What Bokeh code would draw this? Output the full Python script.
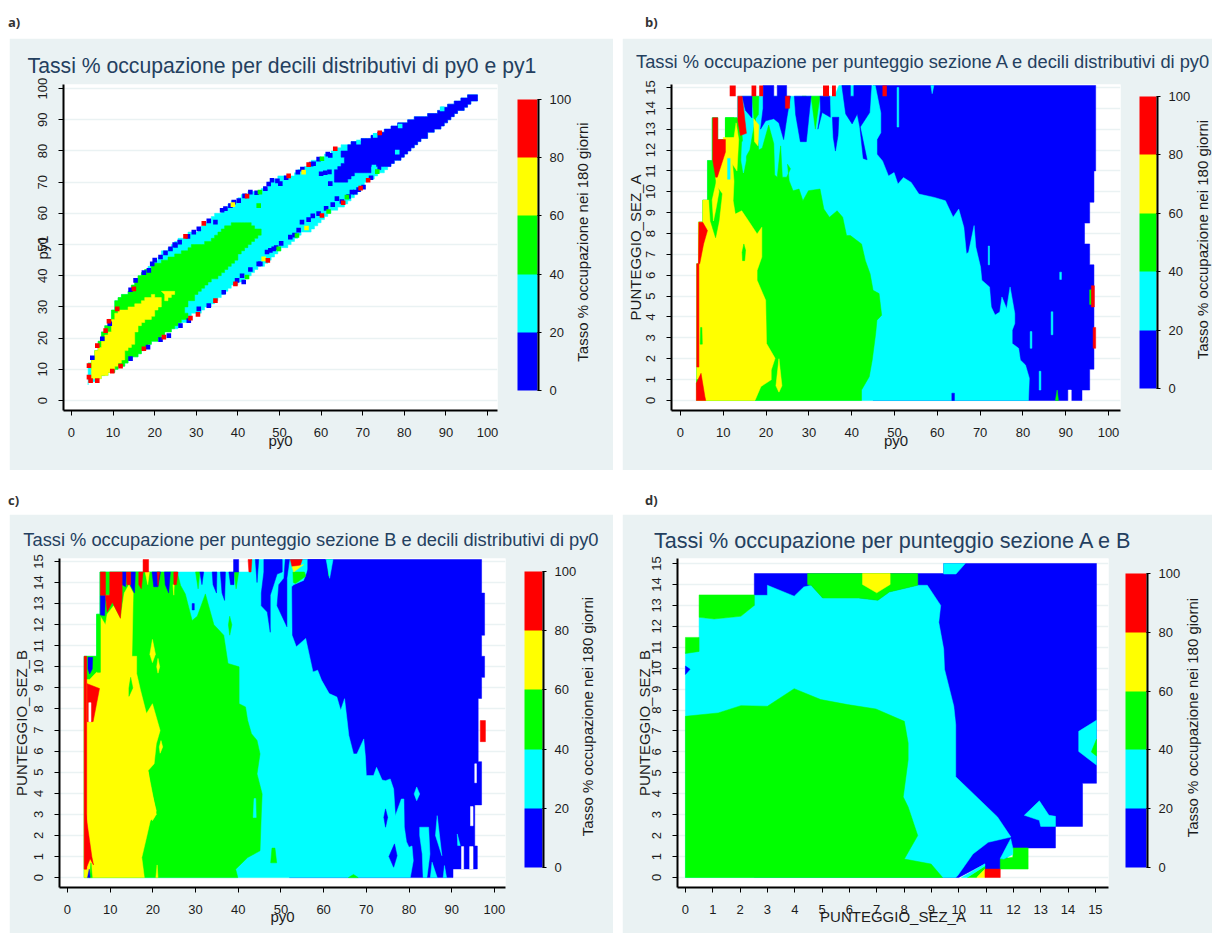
from bokeh.plotting import figure
from bokeh.embed import file_html
from bokeh.resources import INLINE
from bokeh.layouts import column, row
from bokeh.models import (Range1d, FixedTicker, LinearColorMapper, ColorBar, LinearAxis, Div)

BLUE, CYAN, GREEN, YELLOW, RED = "#0000ff", "#00ffff", "#00ff00", "#ffff00", "#ff0000"
BANDS = [BLUE, CYAN, GREEN, YELLOW, RED]
PANEL_BG = "#eaf2f3"
TITLE_COLOR = "#24405f"
CB_TICKS = [0, 20, 40, 60, 80, 100]
PCT_TICKS = list(range(0, 101, 10))
SCORE_TICKS = list(range(0, 16))
CB_LABEL = "Tasso % occupazione nei 180 giorni"

# ---------- panel a: py0 (x) against py1 (y) ----------
A_UPPER = [(4.2,12.3),(5.4,15),(6.6,19.2),(7.8,23),(9,26.2),(10.6,31.5),(14.2,35.8),(15.4,39),(17.8,42.2),
           (19,44.3),(21,46.5),(23.8,50.2),(27,52.9),(29.4,54.5),(31.8,57.2),(35.8,61),(39.8,65.2),(42.6,66.8),
           (46.2,67.9),(48.2,71.1),(52.6,72.4),(57,75.9),(60.6,78.6),(63.4,81.2),(66.6,82.3),(71,84.4),
           (77.5,88.2),(81.9,90.3),(86.3,91.9),(92.7,96.2),(95.9,98),(97.3,97.3)]
A_LOWER = [(97.3,95.7),(93.5,92.7),(90.3,88.7),(86.3,85.5),(84.3,82.8),(80.7,79.1),(76.7,74.8),(74.3,72.7),
           (71.1,70),(68.7,65.7),(66.2,63.1),(62.2,59.9),(59,56.1),(54.6,51.9),(51,48.6),(47,44.3),(41.4,38.5),
           (37.4,35.3),(35,31.5),(30.2,27.8),(28.2,25.1),(23.8,22.4),(21.4,19.8),(18.6,16.6),(14.6,12.8),
           (10.2,9.1),(7,7),(6.6,5.9),(4.2,5.3)]
A_BLUE = [(63.4,70.5),(63.4,74.3),(65.8,77.5),(64.5,78.6),(65,80.5),(66.6,82.3),(71,84.4),(77.5,88.2),(81.9,90.3),
          (86.3,91.9),(92.7,96.2),(95.9,98),(97.3,97.3),(97.3,95.7),(93.5,92.7),(90.3,88.7),(86.3,85.5),
          (84.3,82.8),(80.7,79.1),(76.7,74.8),(74.5,74.5),(72.5,75),(71.9,73),(68.7,72.7),(65.4,69.5)]
A_GREEN = [(4.2,12.3),(5.4,15),(6.6,19.2),(7.8,23),(9,26.2),(10.6,31.5),(14.2,35.8),(15.4,39),(17.8,42.2),(19,43.5),(21.4,44.9),
           (25.4,47),(27.8,49.2),(31,50.2),(33.4,52.4),(38.2,57.2),(42.2,57.2),(45.4,53.4),(43.4,50.2),(39.8,45.4),(36.6,40.6),
           (32.6,37.4),(30,33.5),(27,29.5),(28,26),(25.4,24.5),(23.8,22.4),(21.4,19.8),(18.6,16.6),(14.6,12.8),
           (10.2,9.1),(7,7.5)]
A_YELLOW = [(4.5,12),(5.4,14.5),(7.4,18.7),(9.4,23.5),(10.6,27.8),(12.6,29.4),(17,32),(19,33.7),(21.8,32),(21.8,29.9),
            (19,26.2),(16.6,23.5),(15,20.8),(15.4,18.2),(13,14.4),(10.6,10),(7.4,7.3),(5.4,6.6),(4.5,8)]
A_YELLOW2 = [(21.8,35.3),(25,34.2),(23.4,31.5),(22.2,33.1)]
A_CELLS_BLUE = [(5,13.7),(7.4,19.8),(9.2,24.6),(14.2,35.5),(15.4,38.5),(18.6,41.7),(19.4,43.8),(21.4,46),(23.8,48.6),
                (25,49.7),(29.4,54),(34.6,57.2),(14.2,13.4),(18.4,17.1),(21.4,19.5),(23.4,20.8),(26.2,24),(28.2,25.6),
                (30.6,29.4),(33,30.4),(36.6,34.7),(39.8,38.5),(41,40),(47,47.6),(45.4,43.8),(48.6,48.6),(36.2,61),
                (38.2,62.5),(40.2,64.1),(43,66.8),(46.6,67.9),(48.2,70.6),(50.2,69.5),(54.4,73.2),(58.2,75.9),
                (62.2,78.6),(52.6,52.4),(47.8,48.1),(55.4,57.2),(59.4,59.9),(63.8,64.7),(67.4,66.8),(70.2,68.4),
                (68.2,66.8),(45,43.8),(41.4,38),(60,72.7),(61,73),(62,73.3),(62.2,69.5),(17.4,41),(20,45),(22.6,47.3),
                (24.8,50),(26,50.8),(28,52.6),(30.6,55),(33,57.6),(37,61.5),(39,63.6),(41.6,65.6),(44.5,66.6),(47.4,69.4),
                (49.5,70.4),(51.6,71.4),(55.5,74.2),(57.6,75.8),(59.4,77.4),(61.6,79),(53.6,53),(54.6,54.6),(50.4,50.4),
                (49.2,49),(43,42),(57,58),(58,59.2),(61.2,61.6),(62.8,62.8),(65,63.8),(66.6,65.4),(69,67.6),(72,71.4)]
A_CELLS_RED = [(4.2,11.2),(4.2,7.5),(4.6,6.4),(6.2,6.4),(9.8,9.4),(11.8,11),(6.2,17.6),(8.2,22.4),(9,25.4),(11,29.4),
               (15,35.8),(27.4,52.6),(31.8,56.8),(17.4,16.6),(22.2,20.3),(34.6,32),(30.4,27.6),(28.6,26.4),(39.4,37.4),
               (47.2,44.9),(42.2,65.5),(52.2,72),(57,75.6),(63.4,80.7),(74.1,85.8),(65.3,63.4),(69.5,68.1),(71.3,70.6),
               (60.2,59.3)]
A_CELLS_GREEN = [(45.3,66.8),(60.2,77.5),(54.2,52.9),(49.8,48.6),(61.8,60.6),(66.2,65.2),(73.5,73.4),(42.2,39.6),(45,62.5)]
A_CELLS_YELLOW = [(38.8,62.8),(55.8,73.2),(56.5,55.3),(46.2,45.4)]
A_CELLS_CYAN = [(69,82.8),(73,85),(79,88),(89.1,93.5),(78.3,79.6),(72.7,74.8)]

# ---------- panel b: py0 (x) against PUNTEGGIO_SEZ_A (y) ----------
B_STAIR = [(3.8,0),(3.8,6.55),(4.2,6.55),(4.2,8.55),(5.2,8.55),(5.2,9.6),(6.3,9.6),(6.3,11.5),(7.4,11.5),(7.4,13.55),
           (8.7,13.55),(8.7,12.5),(10.5,12.5),(10.5,13.55),(13.3,13.55),(13.3,14.58)]
B_BLUE = [(45,0),(93.8,0),(93.8,0.5),(95.6,0.5),(95.6,1.5),(96.6,1.5),(96.6,6.5),(95.6,6.5),(95.6,7.5),(94.4,7.5),
          (94.4,8.5),(95.6,8.5),(95.6,9.5),(96.6,9.5),(96.6,11),(97,11),(97,15.09),(45,15.09)]
B_CYAN = [(81.3,0),(81.5,1.07),(80.6,1.7),(79.4,1.94),(79,2.5),(77.5,2.73),(77.5,3.37),(78.1,3.69),(78.1,4.17),(77,5.44),
          (76.2,4.4),(75.1,4.96),(74.6,4.24),(73.5,4.09),(72.6,4.48),(72.2,5.44),(70.4,5.76),(70.1,6.39),(69,7.35),
          (68.6,8.38),(67.3,7.1),(66.8,7.03),(66.2,8.3),(65,9.17),(63.7,8.78),(61.9,9.57),(59.3,9.73),(55.7,9.89),
          (53.9,10.45),(52.1,10.68),(50.8,10.37),(49.9,10.92),(48.6,10.76),(47.2,11.48),(45.9,11.8),(45.9,12.51),
          (46.8,12.83),(46.8,13.78),(45.5,15.09),(37,15.09),(36,14.58)]
B_GREEN = [(42.3,0),(42.3,0.5),(44.1,1.14),(44.8,1.94),(45.6,3.2),(45.9,3.85),(47,4.08),(46.4,5.12),(45,5.28),(44.3,6.07),
           (43.2,6.7),(42.3,7.5),(39.7,7.9),(38.8,7.9),(37.9,8.78),(36.6,9.09),(34.8,8.78),(33.5,9.17),(32.6,10.13),
           (29.9,10.05),(28.6,9.57),(27.7,10.13),(26.3,10.05),(25.4,10.52),(25,11.32),(25.7,11.1),(24.8,10.7),(23.8,10.7),
           (23.4,12.2),(22.6,10.7),(22,10.8),(21.8,12.3),(20.6,13.2),(19.1,12.1),(18.3,12),(17.5,13.5),(16.2,12),(14.8,11.5),
           (14.2,13.3),(13.2,13.55)]
B_YELLOW = [(17.4,0),(18.8,0.67),(21.2,0.99),(21.2,1.46),(22.1,2.02),(20.1,2.73),(19.9,4.8),(17.9,5.76),(17.9,6.23),(19,6.87),
            (19,8.3),(17.9,7.98),(16.1,8.54),(14.3,9.09),(12.8,8.93),(12.3,9.57),(12.5,10.5),(12.1,11.5),(12.3,12.6),(10.1,12.45),
            (8.2,10.7),(8.6,10),(8,9.6)]
B_GREEN_BITS = [[(7,10.7),(9.7,9.9),(9,8.6),(8.2,7.8),(7,8.6),(6.6,9.9)],
                [(14.5,6.7),(15,6.7),(15.2,7.2),(14.8,7.5),(14.4,7.1)],
                [(3.8,0.5),(4.2,0.5),(4.2,1.0),(3.8,1.0)],
                [(4.6,2.7),(5.1,2.7),(5,3.5),(4.7,3.5)],
                [(10.5,13.55),(12.5,13.55),(12.5,12.6),(10.5,12.6)],
                [(16.7,14.58),(18.3,14.58),(18.2,13.7),(17.2,13.4)],
                [(28.4,14.58),(29.4,14.58),(29,13.8)],[(30.5,14.58),(32.6,14.58),(31.5,13)],
                [(95.6,4.6),(96,4.6),(96,5.3),(95.6,5.3)],[(87.6,0),(88.3,0),(88,0.5)]]
B_YELLOW_BITS = [[(7.4,9.6),(8.5,10.6),(9,10),(8.3,9.2),(7.7,8.6)],
                 [(17.1,13.5),(18.3,13.2),(18.1,12.2),(17.3,12.4)],
                 [(22.3,0.7),(23,2),(23.7,0.7),(23,0.4)],
                 [(10,12.6),(12.5,12.6),(13,13.3),(13.6,12.5),(13.2,11),(10.3,11.9)]]
B_CYAN_BITS = [[(14.4,12.4),(15.2,12.4),(15.3,11.5),(14.7,10.9),(14.2,11.5)],[(11,10.6),(11.6,10.6),(11.6,11.6),(11,11.6)],
               [(15,13.8),(16.4,13.2),(16.3,12.6),(15.4,12.6)],[(50.6,13.1),(51,13.1),(51,15),(50.6,15)],
               [(71.9,6.5),(72.2,6.5),(72.2,7.4),(71.9,7.4)],[(88.6,5.8),(89,5.8),(89,6.15),(88.6,6.15)],
               [(86.6,3.15),(87,3.15),(87,4.25),(86.6,4.25)],[(81.7,2.5),(82.1,2.5),(82.1,3.3),(81.7,3.3)],
               [(83.8,0.5),(84.2,0.5),(84.2,1.4),(83.8,1.4)],[(58.5,15.09),(59.2,15.09),(58.8,14.7)]]
B_BLUE_BITS = [[(14.4,14.58),(16.7,14.58),(16.7,13.54),(15.2,13.9)],
               [(19.3,15.09),(21.8,15.09),(21.8,14.58),(22.6,14.58),(22.6,15.09),(24.8,15.09),(24.8,14.58),(25.7,14.58),
                (24.9,13.6),(24.1,12.5),(23,13.3),(21.8,13.5),(19.9,13.4),(18.7,13),(19.3,14)],
               [(26.6,14.58),(30.5,14.58),(29.4,12.4),(28,12.4),(26.9,13.7)],
               [(32.6,14.58),(34.9,14.58),(35,13.57),(33.1,13.8),(32.1,13),(32.7,13.9)],
               [(35.5,13.57),(37,13.57),(36.8,12.7),(36.2,11.95),(35.7,12.6)],
               [(37.7,15.09),(39.7,15.09),(39.7,14.58),(40.5,14.58),(40.5,15.09),(44.6,15.09),(44.2,13.8),(42,13.1),
                (43.6,11.53),(42.7,11.6),(41.9,13.1),(41.3,13.73),(40.1,13.25),(38.6,13.73)],
               [(63.4,0),(64,0),(64,0.35),(63.4,0.35)]]
B_WHITE_BITS = [[(90.6,-0.02),(91.3,-0.02),(91.3,0.5),(90.6,0.5)]]
B_RED_BITS = [[(3.7,0),(3.7,0.83),(4.8,1.3),(5.7,0.19),(5.9,0)],
              [(3.8,1.6),(4.3,1.6),(4.3,6.55),(3.8,6.55)],
              [(4.3,8.54),(5.2,8.54),(6.3,8.14),(5.4,7.5),(4.5,6.55),(4.2,6.55)],
              [(7.55,13.55),(8.7,13.55),(8.7,12.5),(10.5,12.5),(10.5,11.9),(8.6,10.7),(8.2,10.7),(7.55,11.5)],
              [(13.4,14.58),(14.4,14.58),(14.8,13.9),(15.4,12.8),(14,12.7),(13.4,13.4)],
              [(24.5,14.58),(25.5,14.58),(25.5,14),(24.5,14)],
              [(96,4.48),(96.7,4.48),(96.7,5.5),(96,5.5)],[(96.4,2.5),(97,2.5),(97,3.5),(96.4,3.5)]]
B_TOP_RED = [(11.5,12.9),(16.6,17.7),(18.4,19.3),(33.3,34.7),(35.4,36.3),(47.2,48.2)]

# ---------- panel c: py0 (x) against PUNTEGGIO_SEZ_B (y) ----------
C_STAIR = [(3.9,0),(3.9,9.4),(3.9,10.5),(6.8,10.5),(6.8,12.5),(7.6,12.5),(7.6,14.5)]
C_BLUE = [(52,0),(90.3,0),(90.3,0.41),(96,0.41),(96,1.5),(95.4,1.5),(95.4,3.45),(97,3.45),(97,5.5),(96.2,5.5),(96.2,8.5),
          (97,8.5),(97,9.5),(97.7,9.5),(97.7,10.5),(97,10.5),(97,11.5),(97.7,11.5),(97.7,13.5),(97,13.5),(97,15.09),(52,15.09)]
C_CYAN = [(80.3,0),(81,0.8),(80.7,1.5),(80,1.44),(79.4,1.7),(78.9,2.4),(78.8,3.73),(78.2,3.73),(76.8,2.94),(76.4,4.2),(75.6,4.68),
          (74.5,4.6),(73.7,4.63),(72.4,5.23),(71.7,4.84),(70,4.84),(69.8,5.71),(69.4,6.58),(67.8,5.87),(67,5.87),(65.9,6.74),
          (65.5,7.45),(64.9,8.49),(64,7.94),(63.1,8.57),(61.3,8.73),(59.5,9.37),(58.6,9.84),(57.5,9.76),(55.8,11.35),(53.6,10.95),
          (52.6,11.5),(52.5,13.8),(53,13.9),(55.3,14.1),(56.3,14.65),(56.3,15.09),(43,15.09),(43,14.5)]
C_GREEN = [(39.9,0),(39.4,0.4),(42.2,0.95),(45.1,1.27),(45.4,3.02),(45.6,3.97),(44.4,4.92),(45.1,5.87),(44.4,6.51),(43.1,6.83),
           (42.2,7.46),(41.7,8.1),(40.2,8.25),(40.2,10),(37.6,10.16),(36.6,11.5),(34.3,12),(32.3,13.46),(30.4,12.4),(29.2,12.2),
           (27.6,13.46),(26.5,13.86),(25.7,14.5)]
C_YELLOW = [(18,0),(17.4,0.95),(18.5,1.9),(19.4,2.7),(20.3,2.86),(20.8,3.17),(19.4,4.29),(18.9,5.08),(20.3,5.4),(20.8,6.35),
            (21.7,6.98),(19.9,8.25),(18.5,7.78),(17.1,8.89),(16.2,9.68),(16.2,10.5),(15.1,10.5),(15.4,13.5),(14.4,13.9),
            (13.3,13.5),(12.4,12.3),(10.8,12.9),(9.3,12.5),(8.9,12),(7.7,12.4),(7.7,9.74),(6.8,9.74),(5.2,9.4)]
C_YELLOW_BITS = [[(19.9,11.3),(20.6,10.6),(19.9,10.2),(19.3,10.6)],[(18.9,5),(19.6,4.3),(20.8,3),(19.9,2.7),(19,3.6)],
                 [(21.7,5.9),(22.3,6.2),(21.9,6.5),(21.5,6.2)],[(21.2,10.4),(21.6,10),(21.2,9.7),(20.9,10)],
                 [(18.2,14.5),(19.2,14.5),(18.8,13.9)],[(20.7,0),(21.2,0),(21,0.6)],
                 [(24.7,13.9),(25,13.9),(24.9,13.4)],[(8.9,13.4),(9.7,13.4),(9.4,12.9)]]
C_GREEN_BITS = [[(14.4,8.6),(15.3,9),(14.8,9.5),(14.4,9)],[(7,12.46),(7.7,12.46),(7.7,9.74),(7,9.74)],
                [(47.6,0.7),(49,0.7),(48.6,1.4),(47.9,1.4)],[(65.8,0),(68.1,0),(67,0.15)],[(38,11.5),(38.5,12),(38,12.4),(37.7,12)],
                [(16.7,14.5),(15.9,14.5),(16.1,13.8)],[(17.7,14.5),(18.2,14.5),(18,13.9)],[(24.1,14.5),(24.9,14.5),(24.5,13.9)],
                [(30,14.5),(31,14.5),(30.6,13.7)],[(39,14.5),(40.1,14.5),(39.5,13.7)],[(5.2,0),(5.8,0),(5.5,0.7)],
                [(52.8,14.5),(55.5,14.5),(55.8,14.3),(53.4,13.95),(52.9,14)],[(60.8,15.09),(61.6,15.09),(61.2,14.3)]]
C_CYAN_BITS = [[(43.5,2.85),(44.2,2.85),(44.1,3.75),(43.7,3.75)],[(60.6,15.09),(62.2,15.09),(61.4,14.2)],
               [(81.8,4.3),(82.5,3.97),(81.8,3.65),(81.2,3.97)],
               [(82.5,2.39),(84.6,2.39),(84.9,1.12),(84.2,0.01),(83.3,0.01),(83.1,1.12),(82.5,2)],
               [(86.6,2.94),(87.7,1.04),(86.2,2)],[(85.4,0.73),(86.6,0),(85,0)],[(88.3,0.57),(88.8,0),(88,0)],
               [(91.3,2.07),(92,1.52),(91.4,1.52)]]
C_BLUE_BITS = [[(46,15.09),(50.3,15.09),(50.3,14.5),(49.1,14.4),(47.5,13.4),(47.5,11.64),(46.8,12.6),(45.4,12.9),(45.4,13.5),(46,14.5)],
               [(51,15.09),(52,15.09),(51.4,14.2),(51.4,13.07),(51.4,11.9),(49.1,12.9),(49.5,13.9),(50.7,14.2)],
               [(56.3,15.09),(60.3,15.09),(60.5,14.2),(56.3,14.4)],[(44,15.09),(44.8,15.09),(44.4,14)],
               [(37.8,14.5),(39,14.5),(39,13.9),(38.2,13.9)],[(38.9,14.5),(40.1,14.5),(40.1,15.09),(38.9,15.09)],
               [(35.8,14.5),(37,14.5),(36.8,13.15),(36.2,13.5)],[(33.9,14.5),(35,14.5),(34.9,13.5),(34.1,13.9)],
               [(31,14.5),(31.9,14.5),(31.5,13.9)],[(22.7,14.5),(24.1,14.5),(23.7,13.5),(22.9,13.9)],
               [(19.8,14.5),(21.8,14.5),(21.2,13.8),(20.2,13.8)],[(14.8,14.5),(15.9,14.5),(15.7,13.5),(14.8,13.85)],
               [(12.8,14.5),(13.8,14.5),(13.6,13.8),(12.8,13.9)],[(7.7,13.38),(8.9,13.38),(8.7,12.43),(7.7,12.46)],
               [(4.8,10.45),(5.9,10.45),(5.8,9.9),(5.2,9.66),(4.8,9.9)],[(29.2,13),(29.7,13),(29.7,12.7),(29.2,12.7)],
               [(76.6,1.6),(77.2,1.04),(76.4,0.49),(75.3,1)],[(74.5,3.26),(75,2.86),(74.5,2.39),(74.1,2.86)],
               [(4.7,0),(5.3,0),(5.1,0.4)]]
C_RED_BITS = [[(7.7,14.5),(8.9,14.5),(8.9,13.4),(7.7,13.4)],
              [(9.9,14.5),(12.8,14.5),(12.8,13.3),(12.4,12.3),(10.5,13.07),(9.3,12.6),(8.9,13.4),(9.9,13.4)],
              [(13.8,14.5),(14.8,14.5),(14.8,13.9),(13.9,13.9)],[(16.7,14.5),(17.7,14.5),(17.3,13.7),(16.7,13.9)],
              [(21,14.5),(21.6,14.5),(21.2,13.85)],[(24.9,14.5),(25.9,14.5),(25.5,13.9),(24.9,13.9)],
              [(17.7,15.09),(19,15.09),(19,14.5),(17.7,14.5)],[(3.9,0.4),(4.5,0.4),(4.5,10.5),(3.9,10.5)],
              [(4.6,9.2),(7.5,8.97),(6,7.4),(4.6,7.4)],[(4.3,3),(5.7,1),(6.1,0.6),(5.3,0.9),(4.3,0.4)],
              [(52.2,15.09),(55,15.09),(54.5,14.8),(52.6,14.75)],[(42.3,15.09),(43.2,15.09),(43,14.5),(42.5,14.5)],
              [(96.7,6.45),(97.9,6.45),(97.9,7.45),(96.7,7.45)]]
C_YELLOW_TOP = [[(52.6,14.75),(54.5,14.8),(55.3,14.85),(53,14.5)]]
C_WHITE_BITS = [[(5,7.4),(5.5,7.4),(5.5,8.3),(5,8.3)],[(94.4,2.46),(95,2.46),(95,3.37),(94.4,3.37)],
                [(95.4,4.5),(95.8,4.5),(95.8,5.4),(95.4,5.4)],[(92.3,0.41),(92.8,0.41),(92.8,1.47),(92.3,1.47)],
                [(94.2,0.41),(95,0.41),(95,1.47),(94.2,1.47)]]

# ---------- panel d: PUNTEGGIO_SEZ_A (x) against PUNTEGGIO_SEZ_B (y) ----------
D_BLUE = [(2.52,14.52),(9.45,14.52),(9.45,15),(15.04,15),(15.04,4.5),(14.53,4.5),(14.53,2.44),(13.54,2.44),(13.54,1.41),
          (11.98,1.41),(11.52,0.4),(10.96,0.4),(10.96,0.65),(10,0),(2.52,0)]
D_CYAN = [(0,0),(9.89,0),(9.96,0.08),(10.52,1.12),(11.08,1.68),(11.91,1.93),(11.42,2.89),(9.89,4.81),(9.89,7.3),(9.82,8.18),
          (9.48,9.95),(9.45,10.91),(9.27,12.19),(9.34,13),(8.85,13.96),(8.5,13.96),(7.46,13.64),(7.04,13.24),(6.34,13.35),
          (5.02,13.35),(4.6,13.96),(4.33,13.88),(3.98,13.44),(3,13.96),(3,13.48),(2.52,13.48),(2.52,13),(2.03,12.48),
          (1.05,12.35),(0.5,12.43),(0.5,11.47),(0,10.75)]
D_GREEN = [(0,0),(9.41,0),(8.99,0.64),(8.01,0.88),(8.5,2),(8.15,3.37),(7.97,3.85),(8.15,5.62),(8.15,6.42),(8.01,7.46),(6.97,8.05),
           (5.93,8.26),(4.95,8.5),(3.98,9.02),(3,8.18),(2.03,8.21),(1.2,7.86),(0,7.7)]
D_GREEN_BITS = [[(0.5,13.5),(2.52,13.5),(2.52,13),(2.03,12.48),(1.05,12.35),(0.5,12.43)],
                [(0,11.47),(0.5,11.47),(0.5,10.8),(0,10.7)],
                [(4.47,14.52),(8.5,14.52),(8.5,13.96),(7.46,13.64),(7.04,13.24),(6.34,13.35),(5.02,13.35),(4.6,13.96),(4.47,14)],
                [(11.98,1.41),(12.54,1.41),(12.54,0.4),(11.52,0.4),(11.52,0.88),(11.98,0.96)],
                [(10.31,0),(10.66,0),(10.96,0.4),(10.96,0.55)]]
D_CYAN_BITS = [[(9.45,15),(10.24,15),(9.9,14.5),(9.45,14.5)],
               [(14.39,6.98),(15.04,7.51),(15.04,5.37),(14.39,6.02)],
               [(12.4,2.97),(12.95,3.66),(13.3,2.97),(13.54,2.92),(13.54,2.44),(13,2.44),(12.95,2.73)],
               [(11.52,0.9),(11.9,1.85),(11.98,1.41),(11.98,1.1),(11.65,0.88)],[(10.1,0),(10.31,0),(10.96,0.55),(10.96,0.65)]]
D_GREEN_TIP = [(14.85,6),(15.04,6.6),(15.04,5.8)]
D_YELLOW_BITS = [[(6.48,14.52),(7.49,14.52),(7.49,14),(7,13.6),(6.48,14)],[(10.66,0),(10.96,0),(10.96,0.4)]]
D_BLUE_BITS = [[(0,10.1),(0.17,9.95),(0,9.7)]]
D_RED_BITS = [[(10.96,0),(11.52,0),(11.52,0.4),(10.96,0.4)]]


def frame_style(p, xticks, yticks, xlabel, ylabel, xstandoff, ystandoff):
    p.xaxis.ticker = FixedTicker(ticks=xticks)
    p.yaxis.ticker = FixedTicker(ticks=yticks)
    p.xaxis.axis_label, p.yaxis.axis_label = xlabel, ylabel
    p.xaxis.axis_label_standoff, p.yaxis.axis_label_standoff = xstandoff, ystandoff
    p.yaxis.major_label_orientation = "vertical"
    for ax in (p.xaxis[0], p.yaxis[0]):
        ax.axis_line_color = "black"
        ax.axis_line_width = 2
        ax.major_tick_line_color = "black"
        ax.major_tick_in = 0
        ax.major_tick_out = 5
        ax.minor_tick_line_color = None
        ax.major_label_text_font = "Liberation Sans"
        ax.major_label_text_font_size = "13px"
        ax.major_label_text_color = "#1c1c1c"
        ax.axis_label_text_font = "Liberation Sans"
        ax.axis_label_text_font_size = "15px"
        ax.axis_label_text_font_style = "normal"
        ax.axis_label_text_color = "#1c1c1c"
    p.xaxis.major_label_standoff = 12
    p.yaxis.major_label_standoff = 11
    p.xgrid.grid_line_color = None
    p.ygrid.ticker = FixedTicker(ticks=yticks)
    p.ygrid.grid_line_color = PANEL_BG
    p.ygrid.grid_line_width = 1.5
    p.outline_line_color = None


def make_panel(w, h, box, xr, yr, xticks, yticks, xlabel, ylabel, title, title_centre, title_standoff, title_size,
               cb_left, cb_top, cb_bottom, cb_width, cb_label_x, xstandoff, ystandoff):
    left, top, right, bottom = box
    p = figure(width=w, height=h, output_backend="svg", toolbar_location=None,
               x_range=Range1d(*xr), y_range=Range1d(*yr),
               min_border_left=left, min_border_top=top, min_border_right=w - right, min_border_bottom=h - bottom,
               background_fill_color="white", border_fill_color=PANEL_BG)
    frame_style(p, xticks, yticks, xlabel, ylabel, xstandoff, ystandoff)
    # panel title: one centred label on an otherwise empty top axis, so that it can sit freely above the frame
    p.add_layout(LinearAxis(ticker=FixedTicker(ticks=[title_centre]), major_label_overrides={title_centre: title},
                            major_label_standoff=title_standoff, axis_line_color=None, major_tick_line_color=None,
                            minor_tick_line_color=None, major_tick_in=0, major_tick_out=0,
                            major_label_text_font="Liberation Sans", major_label_text_font_size=title_size,
                            major_label_text_color=TITLE_COLOR), "above")
    mapper = LinearColorMapper(palette=BANDS, low=0, high=100)
    loc = (cb_left - left, bottom - cb_bottom)
    p.add_layout(ColorBar(color_mapper=mapper, ticker=FixedTicker(ticks=CB_TICKS), width=cb_width, height=cb_bottom - cb_top,
                          location=loc, padding=0, bar_line_color=None, border_line_color=None,
                          background_fill_color=None, major_tick_in=0, major_tick_out=4, major_tick_line_color="black",
                          minor_tick_line_color=None, major_label_text_font="Liberation Sans",
                          major_label_text_font_size="13px", major_label_text_color="#1c1c1c", label_standoff=8), "center")
    # the thin black line along the right side of the colour bar
    p.add_layout(ColorBar(color_mapper=LinearColorMapper(palette=["black"], low=0, high=1), ticker=FixedTicker(ticks=[]),
                          width=2, height=cb_bottom - cb_top, location=(cb_left + cb_width - left, bottom - cb_bottom),
                          padding=0, bar_line_color=None, border_line_color=None, background_fill_color=None,
                          major_tick_line_color=None, minor_tick_line_color=None), "center")
    # colour-bar caption: one centred label of a second left axis, carried over to the right of the colour bar,
    # because only a left axis writes a centred vertical label that reads upwards
    centre_px = (cb_top + cb_bottom) / 2 - 3
    centre = round(yr[1] - (centre_px - top) / (bottom - top) * (yr[1] - yr[0]), 2)
    main_axis = 5 + 11 + 13 + ystandoff + 17
    side = LinearAxis(ticker=FixedTicker(ticks=[centre]), major_label_overrides={centre: CB_LABEL},
                      major_label_orientation="vertical", major_label_standoff=left - main_axis - 10 - cb_label_x,
                      axis_line_color=None, major_tick_line_color=None, minor_tick_line_color=None,
                      major_tick_in=0, major_tick_out=0,
                      major_label_text_font="Liberation Sans", major_label_text_font_size="15px",
                      major_label_text_color="#1c1c1c")
    p.add_layout(side, "left")
    return p


def polys(p, shapes, color):
    p.patches([[q[0] for q in s] for s in shapes], [[q[1] for q in s] for s in shapes],
              fill_color=color, line_color=color, line_width=0.5)


def band(boundary, stair):
    end = boundary[-1][1]
    kept = []
    for q in stair:
        if q[1] > end:
            break
        kept.append(q)
    return boundary + kept[::-1]


def blocky(shape, dx=0.8, dy=1.0):
    """Outline of a polygon drawn as the staircase of a grid of cells."""
    out = []
    pts = shape + shape[:1]
    for (x0, y0), (x1, y1) in zip(pts, pts[1:]):
        n = max(1, int(max(abs(x1 - x0) / dx, abs(y1 - y0) / dy)))
        for k in range(n):
            x = round((x0 + (x1 - x0) * k / n) / dx) * dx
            y = round((y0 + (y1 - y0) * k / n) / dy) * dy
            if out:
                out.append((x, out[-1][1]))
            out.append((x, y))
    return out


def cells(p, pts, color):
    p.rect([q[0] for q in pts], [q[1] for q in pts], width=1.1, height=1.5, fill_color=color, line_color=None)


# panel a
pa = make_panel(604, 432, (54, 46, 488, 372), (-1.92, 102.4), (-3.2, 101.3), PCT_TICKS, PCT_TICKS, "py0", "py1",
                "Tassi % occupazione per decili distributivi di py0 e py1", 50.6, 8, "21.2px",
                508, 61, 352, 20, 574, -8, -15)
polys(pa, [blocky(A_UPPER + A_LOWER)], CYAN)
polys(pa, [blocky(A_BLUE)], BLUE)
polys(pa, [blocky(A_GREEN)], GREEN)
polys(pa, [blocky(A_YELLOW), blocky(A_YELLOW2)], YELLOW)
cells(pa, A_CELLS_CYAN, CYAN)
cells(pa, A_CELLS_BLUE, BLUE)
cells(pa, A_CELLS_GREEN, GREEN)
cells(pa, A_CELLS_YELLOW, YELLOW)
cells(pa, A_CELLS_RED, RED)

# panel b
pb = make_panel(590, 432, (49, 46, 498, 372), (-2.1, 102.8), (-0.48, 15.14), PCT_TICKS, SCORE_TICKS, "py0", "PUNTEGGIO_SEZ_A",
                "Tassi % occupazione per punteggio sezione A e decili distributivi di py0", 56.8, 13, "18.3px",
                517, 58, 350, 17, 581, -8, 0)
polys(pb, [B_BLUE], BLUE)
polys(pb, [band(B_CYAN, B_STAIR)], CYAN)
polys(pb, [band(B_GREEN, B_STAIR)], GREEN)
polys(pb, [band(B_YELLOW, B_STAIR)], YELLOW)
polys(pb, B_GREEN_BITS, GREEN)
polys(pb, B_YELLOW_BITS, YELLOW)
polys(pb, B_CYAN_BITS, CYAN)
polys(pb, B_BLUE_BITS, BLUE)
polys(pb, B_RED_BITS, RED)
polys(pb, B_WHITE_BITS, "white")
pb.quad(left=[q[0] for q in B_TOP_RED], right=[q[1] for q in B_TOP_RED], bottom=14.58, top=15.09, fill_color=RED, line_color=None)

# panel c
pc = make_panel(604, 419, (50, 44, 496, 373), (-1.87, 102.6), (-0.47, 15.14), PCT_TICKS, SCORE_TICKS, "py0", "PUNTEGGIO_SEZ_B",
                "Tassi % occupazione per punteggio sezione B e decili distributivi di py0", 57.03, 9, "18.3px",
                515, 57, 353, 18, 579, -9, 2)
polys(pc, [C_BLUE], BLUE)
polys(pc, [band(C_CYAN, C_STAIR)], CYAN)
polys(pc, [band(C_GREEN, C_STAIR)], GREEN)
polys(pc, [band(C_YELLOW, C_STAIR)], YELLOW)
polys(pc, C_GREEN_BITS, GREEN)
polys(pc, C_YELLOW_BITS, YELLOW)
polys(pc, C_CYAN_BITS, CYAN)
polys(pc, C_BLUE_BITS, BLUE)
polys(pc, C_RED_BITS, RED)
polys(pc, C_YELLOW_TOP, YELLOW)
polys(pc, C_WHITE_BITS, "white")

# panel d
pd = make_panel(590, 419, (55, 44, 486, 373), (-0.29, 15.48), (-0.48, 15.24), SCORE_TICKS, SCORE_TICKS,
                "PUNTEGGIO_SEZ_A", "PUNTEGGIO_SEZ_B",
                "Tassi % occupazione per punteggio sezione A e B", 7.61, 6, "21.6px",
                503, 59, 353, 21, 571, -9, -3)
polys(pd, [D_BLUE], BLUE)
polys(pd, [D_CYAN], CYAN)
polys(pd, [D_GREEN], GREEN)
polys(pd, D_GREEN_BITS, GREEN)
polys(pd, D_CYAN_BITS, CYAN)
polys(pd, [D_GREEN_TIP], GREEN)
polys(pd, D_YELLOW_BITS, YELLOW)
polys(pd, D_BLUE_BITS, BLUE)
polys(pd, D_RED_BITS, RED)


def head(text, width, left, right, top, h):
    return Div(text=text, width=width, height=h, margin=(top, right, 0, left),
               styles={"font-family": "Open Sans", "font-weight": "bold", "font-size": "13px", "color": "#333333",
                       "line-height": "16px"})


pa.margin = (0, 0, 0, 9)
pb.margin = (0, 0, 0, 9)
pc.margin = (0, 0, 0, 9)
pd.margin = (0, 0, 0, 9)
root = column(row(head("a)", 30, 8, 607, 14, 24), head("b)", 30, 0, 0, 14, 24)),
              row(pa, pb),
              row(head("c)", 30, 8, 607, 22, 22), head("d)", 30, 0, 0, 22, 22)),
              row(pc, pd), spacing=0)
open("out.html", "w").write(file_html(root, INLINE))
